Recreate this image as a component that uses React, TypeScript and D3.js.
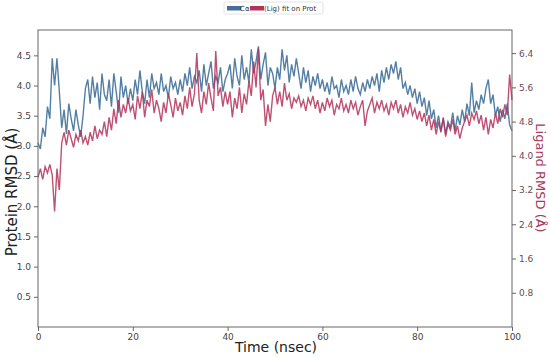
import * as d3 from "d3";
import { useEffect, useRef } from "react";

// protein RMSD (left axis), one value every 0.5 nsec
const proteinRmsd = [
  3.05, 2.95, 3.3, 3.15, 3.65, 3.45, 4.45, 4.0, 4.45, 3.9,
  3.3, 3.6, 3.2, 3.7, 3.45, 3.25, 3.6, 3.35, 3.15, 3.5,
  3.95, 4.1, 3.7, 4.15, 3.8, 4.05, 3.6, 4.2, 3.85, 3.75,
  4.1, 3.65, 4.2, 3.9, 3.55, 4.15, 3.8, 4.0, 3.7, 3.95,
  3.75, 4.1, 3.85, 4.25, 3.9, 3.7, 4.1, 3.8, 4.2, 3.95,
  4.05, 3.85, 4.2, 3.9, 4.0, 3.8, 4.15, 3.95, 4.05, 3.85,
  4.1, 3.9, 4.2, 4.0, 4.3, 3.95, 4.15, 4.05, 4.25, 3.9,
  4.35, 4.0, 4.2, 4.4, 3.95, 4.15, 4.05, 4.3, 3.9, 4.1,
  4.2, 4.35, 3.95, 4.45, 4.15, 4.0, 4.5, 4.1, 4.3, 4.05,
  4.6, 4.2, 4.4, 4.65, 4.1, 4.35, 4.55, 4.0, 4.3, 4.2,
  3.95, 4.3, 4.1, 4.6, 4.25, 4.5, 4.05, 4.35, 4.15, 4.45,
  4.2, 3.95, 4.3, 4.05, 4.25, 3.9, 4.15, 4.0, 4.2, 3.95,
  4.1, 3.9, 4.05, 3.85, 4.15, 3.95, 4.0, 3.8, 4.1, 3.9,
  4.0, 3.85, 4.1, 3.9, 4.15, 3.95, 3.85, 4.05, 3.9, 4.1,
  3.95, 4.15, 4.0, 4.2, 3.9, 4.25, 4.05, 4.3, 4.1, 4.35,
  4.2, 4.4, 4.1, 4.3, 3.95, 4.05, 3.85, 4.0, 3.8, 3.95,
  3.7, 3.9, 3.65, 3.8, 3.5, 3.75, 3.45, 3.6, 3.3, 3.5,
  3.25, 3.45, 3.2, 3.4, 3.3, 3.55, 3.25, 3.5, 3.35, 3.6,
  3.4, 3.7, 3.5, 4.05, 3.55, 3.75, 3.6, 3.85, 3.7, 3.95,
  4.1, 3.7, 3.85, 3.5, 3.65, 3.4, 3.6, 3.45, 3.7, 3.35,
  3.25,
];

// ligand RMSD (right axis), same time steps
const ligandRmsd = [
  3.5, 3.7, 3.45, 3.75, 3.6, 3.8, 3.55, 2.7, 3.7, 3.2,
  4.3, 4.55, 4.25, 4.6, 4.4, 4.2, 4.5, 4.35, 4.6, 4.3,
  4.45, 4.25, 4.55, 4.35, 4.7, 4.4, 4.6, 4.5, 4.8, 4.45,
  4.9, 4.6, 5.1, 4.75, 5.3, 4.9, 5.2, 5.0, 5.35, 5.05,
  5.2, 4.85, 5.4, 5.1, 5.5, 4.9, 5.3, 5.15, 5.55, 5.0,
  5.3, 5.1, 4.8, 5.25, 5.0, 5.45, 5.2, 4.9, 5.35, 5.05,
  5.25, 4.95, 5.4, 5.1, 5.6, 5.15, 5.45, 6.4, 5.3, 5.0,
  5.5, 5.2, 5.7, 5.35, 5.05, 6.45, 5.4, 5.6, 5.15, 5.5,
  5.2, 5.5, 4.9, 5.35, 5.1, 5.6, 5.0, 5.45, 5.2, 5.75,
  5.4, 6.2, 5.6, 6.5, 5.3, 5.55, 4.7, 5.2, 4.8, 5.4,
  5.6, 5.2, 5.5, 5.15, 5.7, 5.3, 5.45, 5.1, 5.35, 5.25,
  5.4, 5.15, 5.3, 5.05, 5.35, 5.2, 5.4, 5.1, 5.3, 5.0,
  5.25, 5.05, 5.35, 5.15, 5.3, 4.95, 5.2, 5.1, 5.35, 5.05,
  5.2, 5.0, 5.3, 5.1, 5.25, 4.95, 5.15, 5.3, 4.7, 5.05,
  5.2, 5.35, 5.0, 5.25, 5.1, 5.3, 5.05, 5.2, 4.95, 5.25,
  5.1, 5.3, 5.0, 5.2, 4.9, 5.15, 5.0, 5.25, 4.95, 5.1,
  4.85, 5.05, 4.8, 5.0, 4.7, 4.95, 4.6, 4.85, 4.5, 4.8,
  4.55, 4.9, 4.45, 4.75, 4.6, 4.85, 4.5, 4.7, 4.4, 4.65,
  4.8, 4.95, 4.7, 5.0, 4.85, 5.05, 4.75, 4.95, 4.6, 4.9,
  4.5, 4.85, 4.65, 5.0, 4.75, 5.1, 4.9, 5.2, 4.95, 5.9,
  5.3,
];

const timeStep = 0.5;
const xTicks = [0, 20, 40, 60, 80, 100];
const leftTicks = [0.5, 1.0, 1.5, 2.0, 2.5, 3.0, 3.5, 4.0, 4.5];
const rightTicks = [0.8, 1.6, 2.4, 3.2, 4.0, 4.8, 5.6, 6.4];

const blue = "#41719a";
const red = "#b3325a";
const font = "DejaVu Sans, sans-serif";

const App = () => {
  const chartRef = useRef(null);

  const width = 550;
  const height = 358;
  const margin = { top: 30, bottom: 31, left: 38, right: 38 };

  useEffect(() => {
    const svg = d3.select(chartRef.current);
    svg.selectAll("*").remove();

    const x = d3.scaleLinear().domain([0, 100]).range([margin.left, width - margin.right]);
    const yLeft = d3.scaleLinear().domain([0, 4.92]).range([height - margin.bottom, margin.top]);
    const yRight = d3.scaleLinear().domain([0, 6.94]).range([height - margin.bottom, margin.top]);

    const lineL = d3.line<number>().x((d, i) => x(i * timeStep)).y(d => yLeft(d));
    const lineR = d3.line<number>().x((d, i) => x(i * timeStep)).y(d => yRight(d));

    svg.append("path").datum(proteinRmsd)
      .attr("d", lineL).attr("fill", "none")
      .attr("stroke", blue).attr("stroke-width", 1.4).attr("opacity", 0.9);
    svg.append("path").datum(ligandRmsd)
      .attr("d", lineR).attr("fill", "none")
      .attr("stroke", red).attr("stroke-width", 1.4).attr("opacity", 0.85);

    // frame
    svg.append("rect")
      .attr("x", margin.left).attr("y", margin.top)
      .attr("width", width - margin.left - margin.right)
      .attr("height", height - margin.top - margin.bottom)
      .attr("fill", "none").attr("stroke", "#666").attr("stroke-width", 1);

    const styleAxis = (g, color) => {
      g.select(".domain").remove();
      g.selectAll("line").attr("stroke", "#666");
      g.selectAll("text").attr("fill", color).style("font-family", font).style("font-size", "9px");
    };

    svg.append("g")
      .attr("transform", `translate(0, ${height - margin.bottom})`)
      .call(d3.axisBottom(x).tickValues(xTicks).tickFormat(d3.format("d")).tickSize(4).tickPadding(3))
      .call(g => styleAxis(g, "#444"));

    svg.append("g")
      .attr("transform", `translate(${margin.left}, 0)`)
      .call(d3.axisLeft(yLeft).tickValues(leftTicks).tickFormat(d3.format(".1f")).tickSize(4).tickPadding(3))
      .call(g => styleAxis(g, "#444"));

    svg.append("g")
      .attr("transform", `translate(${width - margin.right}, 0)`)
      .call(d3.axisRight(yRight).tickValues(rightTicks).tickFormat(d3.format(".1f")).tickSize(4).tickPadding(3))
      .call(g => styleAxis(g, "#6a4a55"));

    // axis titles
    svg.append("text")
      .attr("x", 276).attr("y", 352)
      .attr("text-anchor", "middle").style("font-family", font).style("font-size", "14px")
      .attr("fill", "#222").text("Time (nsec)");

    svg.append("text")
      .attr("transform", `translate(17, 192) rotate(-90)`)
      .attr("text-anchor", "middle").style("font-family", font).style("font-size", "15px")
      .attr("fill", "#222").text("Protein RMSD (Å)");

    svg.append("text")
      .attr("transform", `translate(536, 178) rotate(90)`)
      .attr("text-anchor", "middle").style("font-family", font).style("font-size", "13px")
      .attr("fill", "#a8385a").text("Ligand RMSD (Å)");

    // legend
    const lg = svg.append("g");
    lg.append("rect").attr("x", 224).attr("y", 2).attr("width", 99).attr("height", 12)
      .attr("fill", "white").attr("stroke", "#ddd").attr("stroke-width", 0.8).attr("rx", 1.5);
    lg.append("rect").attr("x", 227).attr("y", 6).attr("width", 14).attr("height", 4.5).attr("fill", blue);
    lg.append("text").attr("x", 240).attr("y", 11).style("font-family", font).style("font-size", "7px")
      .attr("fill", "#333").text("Cα");
    lg.append("rect").attr("x", 250).attr("y", 6).attr("width", 14).attr("height", 4.5).attr("fill", red);
    lg.append("text").attr("x", 264).attr("y", 11).style("font-family", font).style("font-size", "7px")
      .attr("fill", "#333").text("(Lig) fit on Prot");
  }, []);

  return (
    <svg ref={chartRef} width={width} height={height}
      style={{ position: "absolute", left: 0, top: 0, background: "white" }} />
  );
};

export default App;
